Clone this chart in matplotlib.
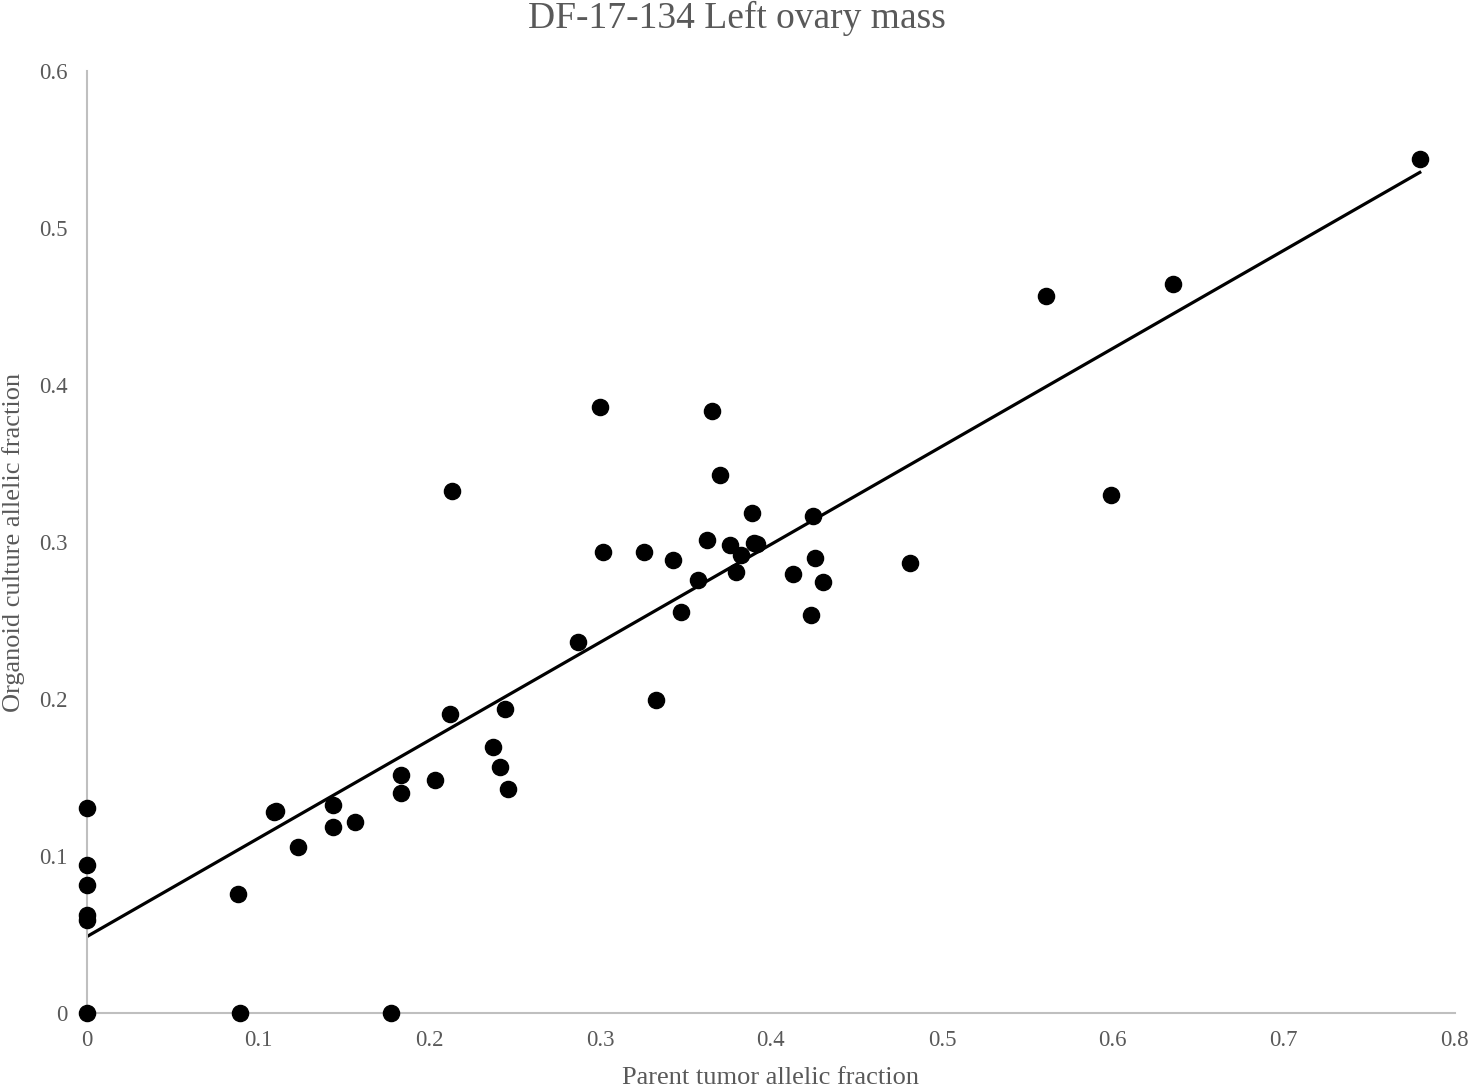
import numpy as np
import matplotlib.pyplot as plt

plt.rcParams['font.family'] = ['Liberation Serif', 'DejaVu Serif']

# Allelic fractions
parent_af = [0.7795, 0.5608, 0.6351, 0.5988, 0.4813, 0.3000, 0.3655, 0.3702,
             0.2135, 0.3889, 0.4246, 0.3018, 0.3257, 0.3427, 0.3626, 0.3760,
             0.3901, 0.3918, 0.3825, 0.4257, 0.3795, 0.4129, 0.4304, 0.3573,
             0.3474, 0.4234, 0.2871, 0.3327, 0.2123, 0.2444, 0.2374, 0.2415,
             0.2462, 0.2035, 0.1836, 0.1836, 0.1439, 0.1439, 0.1567, 0.1094,
             0.1105, 0.1234, 0.0883, 0.0895, 0.1778, 0.0, 0.0, 0.0, 0.0, 0.0, 0.0]
organoid_af = [0.5439, 0.4567, 0.4643, 0.3299, 0.2866, 0.3860, 0.3834, 0.3427,
               0.3325, 0.3185, 0.3166, 0.2936, 0.2936, 0.2885, 0.3013, 0.2981,
               0.2994, 0.2987, 0.2917, 0.2898, 0.2809, 0.2796, 0.2745, 0.2758,
               0.2554, 0.2535, 0.2363, 0.1994, 0.1904, 0.1936, 0.1694, 0.1567,
               0.1427, 0.1484, 0.1516, 0.1401, 0.1325, 0.1185, 0.1217, 0.1280,
               0.1287, 0.1057, 0.0758, 0.0, 0.0, 0.0, 0.1306, 0.0943, 0.0815,
               0.0624, 0.0592]

x = np.array(parent_af)
y = np.array(organoid_af)

# linear trendline
slope, intercept = np.polyfit(x, y, 1)
x_line = np.array([0, x.max()])
y_line = intercept + slope * x_line

grey = '#595959'
fig = plt.figure(figsize=(14.74, 10.92), dpi=100)
ax = fig.add_axes([0.059, 0.0723, 0.928, 0.8627])

ax.scatter(x, y, s=135, color='black', zorder=3, clip_on=False)
ax.plot(x_line, y_line, color='black', linewidth=2.3, zorder=2)

ax.set_xlim(0, 0.8)
ax.set_ylim(0, 0.6)
ax.set_xticks(np.arange(0, 0.81, 0.1))
ax.set_yticks(np.arange(0, 0.61, 0.1))
ax.set_xticklabels(['0', '0.1', '0.2', '0.3', '0.4', '0.5', '0.6', '0.7', '0.8'])
ax.set_yticklabels(['0', '0.1', '0.2', '0.3', '0.4', '0.5', '0.6'])
ax.tick_params(length=0, labelsize=16.5, labelcolor=grey)
ax.tick_params(axis='y', pad=14)
ax.tick_params(axis='x', pad=12)

for s in ['top', 'right']:
    ax.spines[s].set_visible(False)
for s in ['left', 'bottom']:
    ax.spines[s].set_color('#bfbfbf')
    ax.spines[s].set_linewidth(1.5)

ax.set_xlabel('Parent tumor allelic fraction', fontsize=19, color=grey)
ax.set_ylabel('Organoid culture allelic fraction', fontsize=19, color=grey)
ax.xaxis.set_label_coords(0.5, -0.069)
ax.yaxis.set_label_coords(-0.0534, 0.5)
ax.xaxis.label.set_va('center')
ax.yaxis.label.set_va('center')
fig.text(0.5, 0.9835, 'DF-17-134 Left ovary mass', fontsize=27, color=grey,
         ha='center', va='center')

fig.savefig('out.png', dpi=100)
